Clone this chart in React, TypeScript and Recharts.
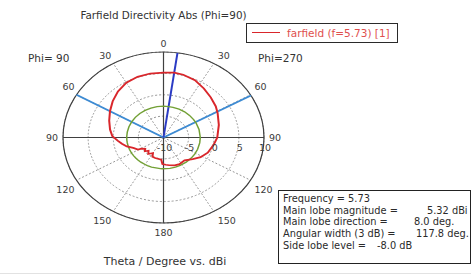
import { PolarAngleAxis, PolarGrid, PolarRadiusAxis, Radar, RadarChart } from "recharts";

// theta in degrees, clockwise from the top (0..360), directivity in dBi
const THETA = [
  0, 8, 15, 25, 35, 45, 55, 62, 75, 90, 100, 112, 122, 131, 142, 153, 161, 170, 176, 182, 185,
  199, 206, 210, 218, 224, 229, 234, 239, 241, 248, 254, 260, 265, 272, 280, 290, 300, 310, 320,
  330, 340, 350,
];
const DIRECTIVITY = [
  5.2, 5.32, 5.2, 4.8, 4.0, 3.3, 2.7, 2.2, 1.4, 0.7, 0.1, -0.5, -1.3, -2.3, -3.2, -3.0, -3.1, -3.4,
  -3.6, -3.8, -4.8, -4.9, -5.0, -5.8, -5.1, -5.7, -5.1, -5.5, -4.9, -4.2, -3.5, -2.4, -1.6, -0.9,
  0.2, 0.8, 1.5, 2.3, 3.2, 4.1, 4.8, 5.1, 5.2,
];
const SIDE_LOBE_RING = -2.68; // 5.32 - 8 dB
const MAIN_LOBE_DIR = 8;
const BEAM_EDGES = [-60, 60.5];

const ANGLE_TICKS = [0, 30, 60, 90, 120, 150, 180, 210, 240, 270, 300, 330];
const RADIUS_TICKS = [-10, -5, 0, 5, 10];

const INFO = [
  ["Frequency = 5.73", ""],
  ["Main lobe magnitude =", "5.32 dBi"],
  ["Main lobe direction =", "8.0 deg."],
  ["Angular width (3 dB) =", "117.8 deg."],
  ["Side lobe level =", "-8.0 dB"],
];
const INFO_VALUE_X = [0, 427, 414, 416, 377];

const data = THETA.map((theta, i) => ({ theta, dbi: DIRECTIVITY[i], sll: SIDE_LOBE_RING }));

// plot is drawn round and squashed vertically, like the reference
const K = 0.85;
const CX = 163.5;
const CY = 137.5;
const R = 100.5;
const W = 340;
const H = 275 / K;

// recharts angles: 0 at 3 o'clock, counter-clockwise
const toChartAngle = (theta: number) => 90 - theta;

function AngleTick(props: any) {
  const v = Number(props.payload?.value);
  if (!(v >= 0 && v < 360)) return null;
  const a = (v * Math.PI) / 180;
  const s = Math.sin(a);
  const c = Math.cos(a);
  const side = Math.abs(s) < 0.01 ? 0 : Math.sign(s);
  const vert = Math.abs(c) < 0.01 ? 0 : Math.sign(c);
  const x = CX + R * s + (side === 0 ? 0 : vert === 0 ? side * 5 : side > 0 ? 4 : -2);
  const y = CY - K * R * c + (vert > 0 ? -8.5 : vert < 0 ? 9.5 : 0);
  const label = v <= 180 ? v : 360 - v;
  return (
    <g transform={`translate(${x} ${y / K}) scale(1 ${1 / K})`}>
      <text
        textAnchor={side === 0 ? "middle" : side > 0 ? "start" : "end"}
        dominantBaseline="central"
        fontSize={9.5}
        fill="#3a3a3a"
      >
        {label}
      </text>
    </g>
  );
}

function RadiusTick(props: any) {
  const { x, payload } = props;
  return (
    <g transform={`translate(${x + 1} ${(CY + 10.5) / K}) scale(1 ${1 / K})`}>
      <text textAnchor="middle" dominantBaseline="central" fontSize={9.5} fill="#3a3a3a">
        {payload.value}
      </text>
    </g>
  );
}

const abs = (left: number, top: number, extra: React.CSSProperties = {}): React.CSSProperties => ({
  position: "absolute",
  left,
  top,
  whiteSpace: "pre",
  lineHeight: "12px",
  ...extra,
});

export default function App() {
  return (
    <div
      style={{
        position: "absolute",
        left: 0,
        top: 0,
        width: 471,
        height: 275,
        background: "#fff",
        overflow: "hidden",
        fontFamily: "'DejaVu Sans', Verdana, sans-serif",
        color: "#333",
      }}
    >
      <div style={abs(0, 9, { width: 327, textAlign: "center", fontSize: 10.4 })}>
        Farfield Directivity Abs (Phi=90)
      </div>

      <div
        style={{
          position: "absolute",
          left: 0,
          top: 0,
          width: W,
          height: H,
          transform: `scaleY(${K})`,
          transformOrigin: "0 0",
        }}
      >
        <RadarChart
          width={W}
          height={H}
          cx={CX}
          cy={CY / K}
          innerRadius={0}
          outerRadius={R}
          data={data}
          margin={{ top: 0, right: 0, bottom: 0, left: 0 }}
        >
          <PolarGrid gridType="circle" stroke="#8c8c8c" strokeDasharray="2 2" />
          <PolarGrid
            gridType="circle"
            polarAngles={[0, 90, 180, 270]}
            polarRadius={[R]}
            stroke="#404040"
            strokeWidth={1.2}
          />
          <PolarAngleAxis
            type="number"
            dataKey="theta"
            domain={[0, 360]}
            ticks={ANGLE_TICKS}
            tick={AngleTick}
            tickLine={false}
            axisLine={false}
          />
          <PolarRadiusAxis
            type="number"
            angle={0}
            domain={[-10, 10]}
            ticks={RADIUS_TICKS}
            tick={RadiusTick}
            axisLine={false}
          />
          <Radar
            dataKey="sll"
            stroke="#72a035"
            strokeWidth={1.5}
            fill="none"
            fillOpacity={0}
            dot={false}
            isAnimationActive={false}
          />
          <Radar
            dataKey="dbi"
            stroke="#d9262b"
            strokeWidth={2}
            fill="none"
            fillOpacity={0}
            dot={false}
            isAnimationActive={false}
          />
          <PolarGrid
            gridType="circle"
            polarAngles={BEAM_EDGES.map(toChartAngle)}
            polarRadius={[]}
            stroke="#3d8bd3"
            strokeWidth={2}
          />
          <PolarGrid
            gridType="circle"
            polarAngles={[toChartAngle(MAIN_LOBE_DIR)]}
            polarRadius={[]}
            stroke="#2b3bc4"
            strokeWidth={2}
          />
        </RadarChart>
      </div>

      <div style={abs(28, 52, { fontSize: 10.5 })}>Phi= 90</div>
      <div style={abs(258, 52, { fontSize: 10.5 })}>Phi=270</div>

      <div
        style={{
          position: "absolute",
          left: 246,
          top: 23,
          width: 152,
          height: 20,
          boxSizing: "border-box",
          border: "1.5px solid #2a2a2a",
        }}
      />
      <div style={{ position: "absolute", left: 252, top: 32, width: 28, borderTop: "1.5px solid #d9262b" }} />
      <div style={abs(287, 27, { fontSize: 10.5, color: "#e0504e" })}>farfield (f=5.73) [1]</div>

      <div
        style={{
          position: "absolute",
          left: 278,
          top: 190,
          width: 193,
          height: 74,
          boxSizing: "border-box",
          border: "1.5px solid #222",
        }}
      />
      {INFO.map(([label, value], i) => (
        <div key={label}>
          <div style={abs(283, 193 + i * 11.7, { fontSize: 9.8, color: "#2a2a2a" })}>{label}</div>
          {value && (
            <div style={abs(INFO_VALUE_X[i], 193 + i * 11.7, { fontSize: 9.8, color: "#2a2a2a" })}>
              {value}
            </div>
          )}
        </div>
      ))}

      <div style={abs(0, 255.5, { width: 330, textAlign: "center", fontSize: 11 })}>
        Theta / Degree vs. dBi
      </div>
      <div style={{ position: "absolute", left: 0, top: 273, width: 471, height: 1, background: "#e2e2e2" }} />
    </div>
  );
}
